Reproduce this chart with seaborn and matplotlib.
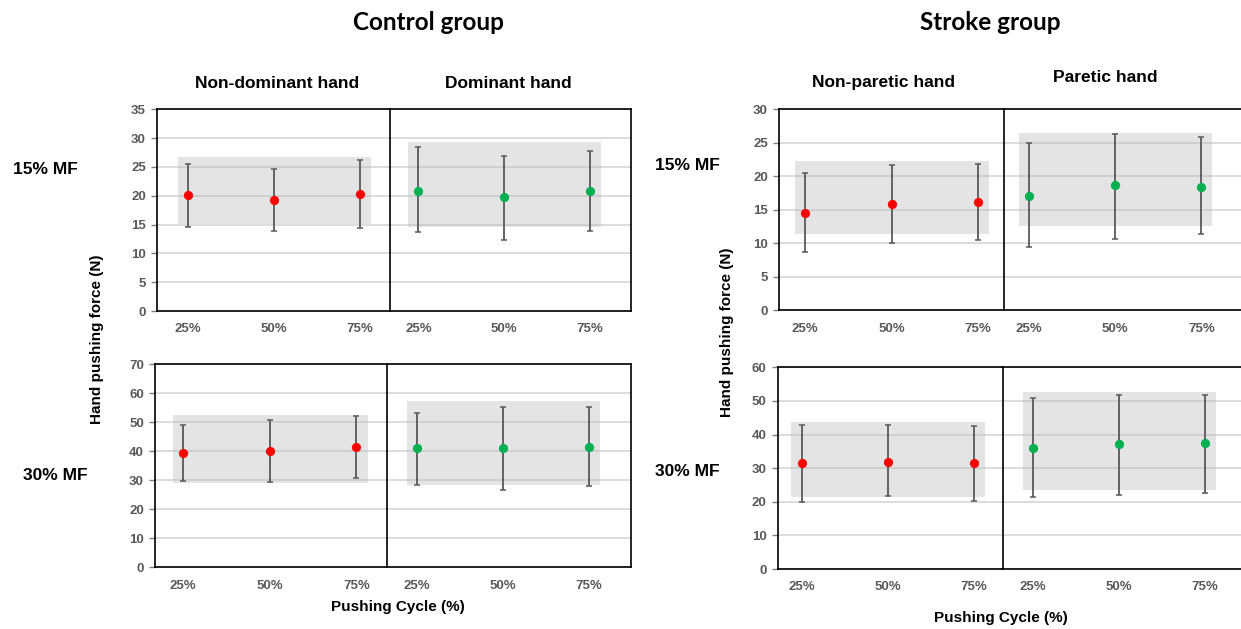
import matplotlib
matplotlib.use("Agg")
import matplotlib.pyplot as plt
import seaborn as sns
import numpy as np

# ---- data -------------------------------------------------------------
cycle_labels = ["25%", "50%", "75%"]

# Control group, 15% MF
ctrl15_nondom_mean = [20.1, 19.2, 20.3]
ctrl15_nondom_hi = [25.5, 24.7, 26.2]
ctrl15_nondom_lo = [14.6, 13.9, 14.4]
ctrl15_nondom_band = [15.1, 26.7]

ctrl15_dom_mean = [20.9, 19.7, 20.8]
ctrl15_dom_hi = [28.4, 26.9, 27.7]
ctrl15_dom_lo = [13.7, 12.4, 13.9]
ctrl15_dom_band = [14.5, 29.3]

# Control group, 30% MF
ctrl30_nondom_mean = [39.4, 40.0, 41.6]
ctrl30_nondom_hi = [49.0, 50.7, 52.1]
ctrl30_nondom_lo = [29.8, 29.3, 30.7]
ctrl30_nondom_band = [29.2, 52.5]

ctrl30_dom_mean = [41.1, 41.2, 41.6]
ctrl30_dom_hi = [53.3, 55.2, 55.2]
ctrl30_dom_lo = [28.5, 26.8, 28.1]
ctrl30_dom_band = [28.4, 57.3]

# Stroke group, 15% MF
strk15_nonpar_mean = [14.5, 15.8, 16.1]
strk15_nonpar_hi = [20.5, 21.6, 21.8]
strk15_nonpar_lo = [8.7, 10.1, 10.5]
strk15_nonpar_band = [11.4, 22.2]

strk15_par_mean = [17.1, 18.6, 18.4]
strk15_par_hi = [24.9, 26.3, 25.8]
strk15_par_lo = [9.4, 10.7, 11.3]
strk15_par_band = [12.5, 26.4]

# Stroke group, 30% MF
strk30_nonpar_mean = [31.5, 31.8, 31.5]
strk30_nonpar_hi = [42.7, 42.7, 42.4]
strk30_nonpar_lo = [19.9, 21.7, 20.1]
strk30_nonpar_band = [21.5, 43.7]

strk30_par_mean = [36.0, 37.1, 37.4]
strk30_par_hi = [51.0, 51.8, 51.8]
strk30_par_lo = [21.3, 22.1, 22.5]
strk30_par_band = [23.4, 52.7]

ctrl15_yticks = [0, 5, 10, 15, 20, 25, 30, 35]
ctrl30_yticks = [0, 10, 20, 30, 40, 50, 60, 70]
strk15_yticks = [0, 5, 10, 15, 20, 25, 30]
strk30_yticks = [0, 10, 20, 30, 40, 50, 60]

RED = "#ff0000"
GREEN = "#00b050"
ERR = "#595959"
TICK_GREY = "#595959"

# ---- figure -----------------------------------------------------------
W, H = 1241, 629
sns.set_style("white")
plt.rcParams["font.family"] = ["Liberation Sans", "DejaVu Sans"]
plt.rcParams["text.color"] = "black"
fig = plt.figure(figsize=(W / 100, H / 100), dpi=100)


def px_axes(x0, x1, y0, y1):
    """Create axes from pixel box (top-left origin)."""
    return fig.add_axes([x0 / W, 1 - y1 / H, (x1 - x0) / W, (y1 - y0) / H])


def draw_panel(ax, mean, hi, lo, band, color, yticks, xlim, show_y, hide_right=False):
    pos = np.arange(len(cycle_labels))
    ax.set_xlim(*xlim)
    ax.set_ylim(yticks[0], yticks[-1])
    ax.set_yticks(yticks)
    ax.set_xticks(pos)
    ax.set_xticklabels(cycle_labels)
    ax.yaxis.grid(True, color="#d9d9d9", linewidth=1.3, zorder=0)
    ax.set_axisbelow(True)
    # shaded range
    ax.fill_between([-0.12, 2.13], band[0], band[1], color="#bfbfbf",
                    alpha=0.42, linewidth=0, zorder=1)
    # whiskers
    mean_a = np.asarray(mean)
    yerr = np.vstack([mean_a - np.asarray(lo), np.asarray(hi) - mean_a])
    ax.errorbar(pos, mean_a, yerr=yerr, fmt="none", ecolor=ERR,
                elinewidth=1.3, capsize=2.2, capthick=1.1, zorder=3)
    sns.scatterplot(x=pos, y=mean_a, color=color, s=44, edgecolor=color,
                    linewidth=0, ax=ax, zorder=4, legend=False)
    ax.set_xlabel("")
    ax.set_ylabel("")
    for s in ax.spines.values():
        s.set_color("black")
        s.set_linewidth(1.2)
    ax.tick_params(axis="x", length=0, pad=9, labelsize=9.5,
                   labelcolor=TICK_GREY)
    for t in ax.get_xticklabels():
        t.set_fontweight("bold")
    if show_y:
        ax.spines["right"].set_visible(False)
        ax.tick_params(axis="y", left=True, length=4, width=1,
                       color="#7f7f7f", pad=4, labelsize=9.5,
                       labelcolor=TICK_GREY)
        for t in ax.get_yticklabels():
            t.set_fontweight("bold")
    else:
        ax.tick_params(axis="y", left=False, labelleft=False)
    if hide_right:
        ax.spines["right"].set_visible(False)


# Control group
ax = px_axes(157, 390.3, 109.3, 311)
draw_panel(ax, ctrl15_nondom_mean, ctrl15_nondom_hi, ctrl15_nondom_lo,
           ctrl15_nondom_band, RED, ctrl15_yticks, (-0.365, 2.357), True)
ax = px_axes(390.3, 630.7, 109.3, 311)
draw_panel(ax, ctrl15_dom_mean, ctrl15_dom_hi, ctrl15_dom_lo,
           ctrl15_dom_band, GREEN, ctrl15_yticks, (-0.327, 2.478), False)
ax = px_axes(155, 387.3, 364.3, 567.3)
draw_panel(ax, ctrl30_nondom_mean, ctrl30_nondom_hi, ctrl30_nondom_lo,
           ctrl30_nondom_band, RED, ctrl30_yticks, (-0.327, 2.358), True)
ax = px_axes(387.3, 631, 364.3, 567.3)
draw_panel(ax, ctrl30_dom_mean, ctrl30_dom_hi, ctrl30_dom_lo,
           ctrl30_dom_band, GREEN, ctrl30_yticks, (-0.345, 2.488), False)

# Stroke group
ax = px_axes(779, 1003.6, 109, 310.3)
draw_panel(ax, strk15_nonpar_mean, strk15_nonpar_hi, strk15_nonpar_lo,
           strk15_nonpar_band, RED, strk15_yticks, (-0.305, 2.30), True)
ax = px_axes(1003.6, 1241, 109, 310.3)
draw_panel(ax, strk15_par_mean, strk15_par_hi, strk15_par_lo,
           strk15_par_band, GREEN, strk15_yticks, (-0.299, 2.462), False,
           hide_right=True)
ax = px_axes(777.7, 1002.5, 367.3, 569)
draw_panel(ax, strk30_nonpar_mean, strk30_nonpar_hi, strk30_nonpar_lo,
           strk30_nonpar_band, RED, strk30_yticks, (-0.278, 2.33), True)
ax = px_axes(1002.5, 1241, 367.3, 569)
draw_panel(ax, strk30_par_mean, strk30_par_hi, strk30_par_lo,
           strk30_par_band, GREEN, strk30_yticks, (-0.355, 2.419), False,
           hide_right=True)


def ftext(x, y, s, **kw):
    fig.text(x / W, 1 - y / H, s, ha="center", va="center", color="black", **kw)


# group titles
ftext(428, 23, "Control group", family=["Lato", "DejaVu Sans"],
      fontweight="bold", fontsize=17.5)
ftext(990, 23, "Stroke group", family=["Lato", "DejaVu Sans"],
      fontweight="bold", fontsize=17.5)

# hand titles
ftext(277, 83, "Non-dominant hand", fontweight="bold", fontsize=12.5)
ftext(508, 83, "Dominant hand", fontweight="bold", fontsize=12.5)
ftext(883, 83, "Non-paretic hand", fontweight="bold", fontsize=12.5)
ftext(1105, 78, "Paretic hand", fontweight="bold", fontsize=12.5)

# row labels
ftext(45, 170, "15% MF", fontweight="bold", fontsize=12.5)
ftext(55, 475, "30% MF", fontweight="bold", fontsize=12.5)
ftext(687, 166, "15% MF", fontweight="bold", fontsize=12.5)
ftext(687, 471, "30% MF", fontweight="bold", fontsize=12.5)

# axis titles
ftext(97, 339, "Hand pushing force (N)", fontweight="bold", fontsize=11,
      rotation=90)
ftext(727, 332, "Hand pushing force (N)", fontweight="bold", fontsize=11,
      rotation=90)
ftext(398, 607, "Pushing Cycle (%)", fontweight="bold", fontsize=11)
ftext(1001, 618, "Pushing Cycle (%)", fontweight="bold", fontsize=11)

fig.savefig("out.png", dpi=100, facecolor="white")
